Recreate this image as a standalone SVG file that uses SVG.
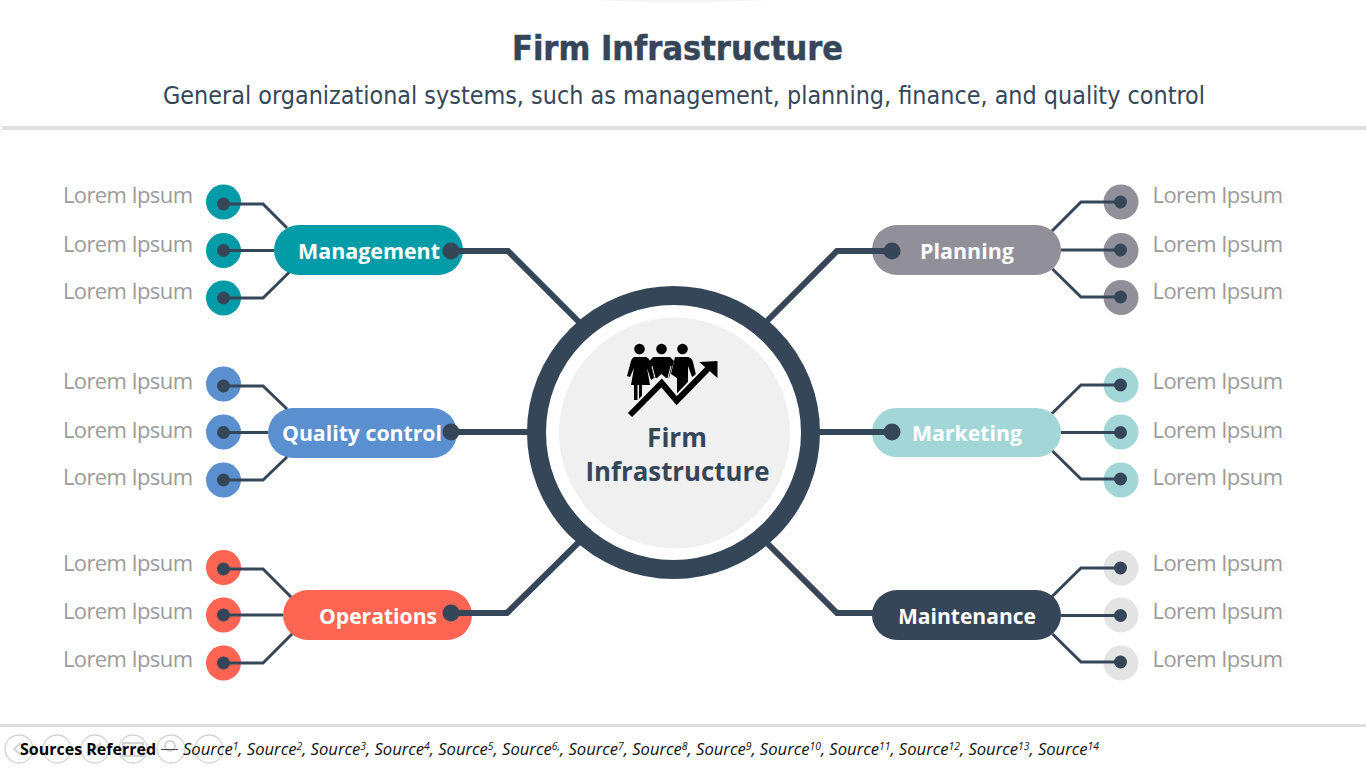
<svg xmlns="http://www.w3.org/2000/svg" width="1366" height="768" viewBox="0 0 1366 768">
<style>
text{font-family:"Open Sans","Noto Sans",sans-serif}
.lr{font-size:22px;fill:#9b9b9b}
.pl{font-size:22px;font-weight:700;fill:#fff;text-anchor:middle}
.ct{font-family:"Open Sans","Noto Sans",sans-serif;font-size:27px;font-weight:700;fill:#364659;text-anchor:middle}
.thick{fill:none;stroke:#364659;stroke-width:6}
.thin{fill:none;stroke:#364659;stroke-width:3}
.dot{fill:#364659}
.rule{stroke:#dfdfdf;stroke-width:3}
.ghost{fill:#fff;fill-opacity:.3;stroke:#d4d4d4;stroke-width:1.3}
.fo{font-size:16px;font-style:italic;fill:#111}
.sup{font-size:10px}
</style>
<rect width="1366" height="768" fill="#fff"/>
<ellipse cx="680" cy="-3" rx="112" ry="5" fill="#f4f4f4"/>
<g id="header">
<text x="677.500" y="60" text-anchor="middle" textLength="331" lengthAdjust="spacingAndGlyphs" style="font-family:'DejaVu Sans',sans-serif;font-size:34px;font-weight:700;fill:#364659;stroke:#364659;stroke-width:.5">Firm Infrastructure</text>
<text x="684" y="104" text-anchor="middle" textLength="1042" lengthAdjust="spacingAndGlyphs" style="font-family:'DejaVu Sans',sans-serif;font-size:25px;fill:#364659">General organizational systems, such as management, planning, finance, and quality control</text>
<line class="rule" x1="2" y1="128" x2="1366" y2="128" style="stroke-width:4"/>
</g>
<g id="hub">
<circle cx="673.500" cy="432.500" r="137" fill="#fff" stroke="#364659" stroke-width="19"/>
<circle cx="674.500" cy="433" r="115.500" fill="#f0f0f0"/>
<g id="hub-icon" fill="#000">
<circle cx="639.500" cy="349" r="5.300"/><circle cx="661.500" cy="349" r="5.300"/><circle cx="682.500" cy="349" r="5.300"/>
<path d="M634 357H646Q649 358 650 361L654 378L651 380L647 368L650 385H642V400H639V385H637.500V400H634V385H631L634 368L630 377L627 376L631 361Q632 358 634 357Z"/>
<path d="M653 357H670L674 361L669 378H666L661.500 374L657 378H654L649.500 361Z"/>
<path d="M675 357H688Q692 358 693 362L696 375L692 377L688 366V382L680 391V393H677V378L671 374Z"/>
<path d="M652 366L655 378M671 366L668 378" fill="none" stroke="#f0f0f0" stroke-width="1"/>
<path d="M630 415L661.700 383L676.700 400.700L710 366.700" fill="none" stroke="#f0f0f0" stroke-width="10"/>
<path d="M630 415L661.700 383L676.700 400.700L710 366.700" fill="none" stroke="#000" stroke-width="6"/>
<path d="M699.300 362L717.500 361V378Z"/>
</g>
<text class="ct" x="677" y="447" textLength="60" lengthAdjust="spacingAndGlyphs">Firm</text>
<text class="ct" x="677.500" y="481" textLength="184" lengthAdjust="spacingAndGlyphs">Infrastructure</text>
</g>
<g id="management">
<rect x="274" y="225" width="189" height="50" rx="25" fill="#029ba8"/>
<text class="pl" x="369" y="259" textLength="142" lengthAdjust="spacingAndGlyphs">Management</text>
<circle class="dot" cx="451" cy="251" r="8.500"/>
<circle cx="223.500" cy="202" r="17.500" fill="#029ba8"/><circle cx="223.500" cy="250.500" r="17.500" fill="#029ba8"/><circle cx="223.500" cy="298" r="17.500" fill="#029ba8"/>
<text class="lr" x="63" y="203" textLength="130">Lorem Ipsum</text><text class="lr" x="63" y="252" textLength="130">Lorem Ipsum</text><text class="lr" x="63" y="299" textLength="130">Lorem Ipsum</text>
</g>
<g id="quality-control">
<rect x="268" y="408" width="189" height="50" rx="25" fill="#5a90cf"/>
<text class="pl" x="362" y="441" textLength="160" lengthAdjust="spacingAndGlyphs">Quality control</text>
<circle class="dot" cx="451" cy="432" r="8.500"/>
<circle cx="223.500" cy="384" r="17.500" fill="#5a90cf"/><circle cx="223.500" cy="432" r="17.500" fill="#5a90cf"/><circle cx="223.500" cy="480" r="17.500" fill="#5a90cf"/>
<text class="lr" x="63" y="389" textLength="130">Lorem Ipsum</text><text class="lr" x="63" y="438" textLength="130">Lorem Ipsum</text><text class="lr" x="63" y="485" textLength="130">Lorem Ipsum</text>
</g>
<g id="operations">
<rect x="283" y="590" width="189" height="50" rx="25" fill="#ff6552"/>
<text class="pl" x="378" y="624" textLength="118" lengthAdjust="spacingAndGlyphs">Operations</text>
<circle class="dot" cx="451" cy="613" r="8.500"/>
<circle cx="223.500" cy="567.500" r="17.500" fill="#ff6552"/><circle cx="223.500" cy="615" r="17.500" fill="#ff6552"/><circle cx="223.500" cy="663" r="17.500" fill="#ff6552"/>
<text class="lr" x="63" y="571" textLength="130">Lorem Ipsum</text><text class="lr" x="63" y="619" textLength="130">Lorem Ipsum</text><text class="lr" x="63" y="667" textLength="130">Lorem Ipsum</text>
</g>
<g id="planning">
<rect x="872" y="225" width="189" height="50" rx="25" fill="#918f99"/>
<text class="pl" x="967" y="259" textLength="94" lengthAdjust="spacingAndGlyphs">Planning</text>
<circle class="dot" cx="892" cy="251" r="8.500"/>
<circle cx="1121" cy="202" r="17.500" fill="#918f99"/><circle cx="1121" cy="250.500" r="17.500" fill="#918f99"/><circle cx="1121" cy="297.500" r="17.500" fill="#918f99"/>
<text class="lr" x="1152.500" y="203" textLength="130.500">Lorem Ipsum</text><text class="lr" x="1152.500" y="252" textLength="130.500">Lorem Ipsum</text><text class="lr" x="1152.500" y="299" textLength="130.500">Lorem Ipsum</text>
</g>
<g id="marketing">
<rect x="872" y="408" width="189" height="49" rx="24.500" fill="#a3d7d7"/>
<text class="pl" x="967" y="441" textLength="110" lengthAdjust="spacingAndGlyphs">Marketing</text>
<circle class="dot" cx="892" cy="432" r="8.500"/>
<circle cx="1121" cy="385" r="17.500" fill="#a3d7d7"/><circle cx="1121" cy="432" r="17.500" fill="#a3d7d7"/><circle cx="1121" cy="480" r="17.500" fill="#a3d7d7"/>
<text class="lr" x="1152.500" y="389" textLength="130.500">Lorem Ipsum</text><text class="lr" x="1152.500" y="438" textLength="130.500">Lorem Ipsum</text><text class="lr" x="1152.500" y="485" textLength="130.500">Lorem Ipsum</text>
</g>
<g id="maintenance">
<rect x="872" y="590" width="189" height="50" rx="25" fill="#364659"/>
<text class="pl" x="967" y="624" textLength="138" lengthAdjust="spacingAndGlyphs">Maintenance</text>
<circle class="dot" cx="892" cy="613" r="8.500"/>
<circle cx="1121" cy="568" r="17.500" fill="#e4e4e4"/><circle cx="1121" cy="615" r="17.500" fill="#e4e4e4"/><circle cx="1121" cy="663" r="17.500" fill="#e4e4e4"/>
<text class="lr" x="1152.500" y="571" textLength="130.500">Lorem Ipsum</text><text class="lr" x="1152.500" y="619" textLength="130.500">Lorem Ipsum</text><text class="lr" x="1152.500" y="667" textLength="130.500">Lorem Ipsum</text>
</g>
<g id="connectors">
<path class="thick" d="M451 251H508L580 323"/>
<path class="thick" d="M892 251H837L767 321"/>
<path class="thick" d="M451 432H530"/>
<path class="thick" d="M818 432H892"/>
<path class="thick" d="M451 613H507L580 541"/>
<path class="thick" d="M767 543L837 613H892"/>
<path class="thin" d="M223.500 204H263L287 228M223.500 250.500H274M223.500 298H263L289 272.500"/>
<path class="thin" d="M223.500 386H263L287 409M223.500 432.500H268M223.500 480H263L287 457"/>
<path class="thin" d="M223.500 569H263L291 597M223.500 615H283M223.500 663H263L292 634"/>
<path class="thin" d="M1120.500 202H1081L1052 231M1061 250H1120.500M1120.500 297H1081L1052.500 269"/>
<path class="thin" d="M1120.500 385H1081L1052 413.500M1061 432.500H1120.500M1120.500 479H1081L1052.500 451"/>
<path class="thin" d="M1120.500 568H1081L1052 596.500M1061 615.500H1120.500M1120.500 662H1081L1052.500 634"/>
<circle class="dot" cx="223.500" cy="204" r="6.500"/><circle class="dot" cx="223.500" cy="250.500" r="6.500"/><circle class="dot" cx="223.500" cy="298" r="6.500"/>
<circle class="dot" cx="223.500" cy="386" r="6.500"/><circle class="dot" cx="223.500" cy="432.500" r="6.500"/><circle class="dot" cx="223.500" cy="480" r="6.500"/>
<circle class="dot" cx="223.500" cy="569" r="6.500"/><circle class="dot" cx="223.500" cy="615" r="6.500"/><circle class="dot" cx="223.500" cy="663" r="6.500"/>
<circle class="dot" cx="1120.500" cy="202" r="6.500"/><circle class="dot" cx="1120.500" cy="250" r="6.500"/><circle class="dot" cx="1120.500" cy="297" r="6.500"/>
<circle class="dot" cx="1120.500" cy="385" r="6.500"/><circle class="dot" cx="1120.500" cy="432.500" r="6.500"/><circle class="dot" cx="1120.500" cy="479" r="6.500"/>
<circle class="dot" cx="1120.500" cy="568" r="6.500"/><circle class="dot" cx="1120.500" cy="615.500" r="6.500"/><circle class="dot" cx="1120.500" cy="662" r="6.500"/>
</g>
<g id="footer">
<line class="rule" x1="0" y1="725.500" x2="1366" y2="725.500"/>
<circle class="ghost" cx="19" cy="749" r="14"/><circle class="ghost" cx="57" cy="749" r="14"/><circle class="ghost" cx="95" cy="749" r="14"/><circle class="ghost" cx="133" cy="749" r="14"/><circle class="ghost" cx="171" cy="749" r="14"/><circle class="ghost" cx="209" cy="749" r="14"/>
<path d="M21 743L14 749L21 755M88 756L101 743M123 743H143V756H123Z" fill="none" stroke="#d4d4d4" stroke-width="2"/>
<circle cx="170" cy="746" r="5" fill="none" stroke="#d4d4d4" stroke-width="2"/>
<text x="20" y="755" textLength="136" lengthAdjust="spacingAndGlyphs" style="font-size:16px;font-weight:700;fill:#000">Sources Referred</text>
<line x1="161" y1="749.500" x2="178" y2="749.500" stroke="#444" stroke-width="1"/>
<text class="fo" x="183" y="755" textLength="916" lengthAdjust="spacingAndGlyphs">Source<tspan class="sup" dy="-5">1</tspan><tspan dy="5">, Source</tspan><tspan class="sup" dy="-5">2</tspan><tspan dy="5">, Source</tspan><tspan class="sup" dy="-5">3</tspan><tspan dy="5">, Source</tspan><tspan class="sup" dy="-5">4</tspan><tspan dy="5">, Source</tspan><tspan class="sup" dy="-5">5</tspan><tspan dy="5">, Source</tspan><tspan class="sup" dy="-5">6,</tspan><tspan dy="5">, Source</tspan><tspan class="sup" dy="-5">7</tspan><tspan dy="5">, Source</tspan><tspan class="sup" dy="-5">8</tspan><tspan dy="5">, Source</tspan><tspan class="sup" dy="-5">9</tspan><tspan dy="5">, Source</tspan><tspan class="sup" dy="-5">10</tspan><tspan dy="5">, Source</tspan><tspan class="sup" dy="-5">11</tspan><tspan dy="5">, Source</tspan><tspan class="sup" dy="-5">12</tspan><tspan dy="5">, Source</tspan><tspan class="sup" dy="-5">13</tspan><tspan dy="5">, Source</tspan><tspan class="sup" dy="-5">14</tspan></text>
</g>
</svg>
